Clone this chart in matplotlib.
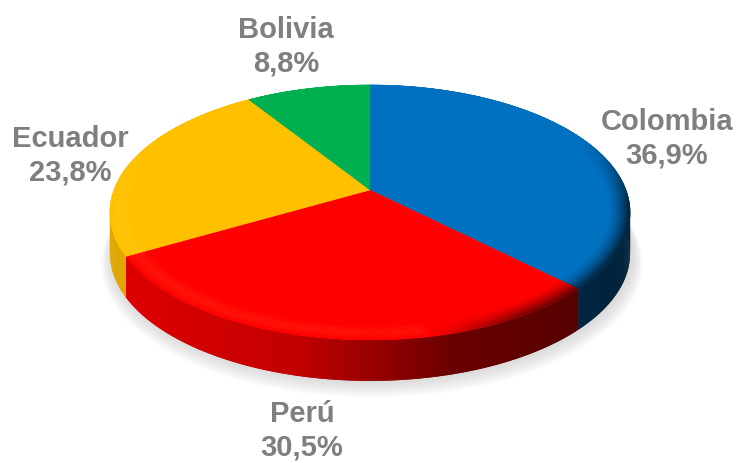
import numpy as np
import matplotlib
matplotlib.use("Agg")
import matplotlib.pyplot as plt
from matplotlib.collections import PolyCollection

countries = ["Colombia", "Perú", "Ecuador", "Bolivia"]
shares = [36.9, 30.5, 23.8, 8.8]
colors = ["#0070C0", "#FF0000", "#FFC000", "#00B050"]
label_x = [667, 302, 70, 286]
label_y = [139, 431, 156, 47]

# pie geometry in pixels, perspective squeezes the back of the disc
CX, CY = 370, 190
A, B, K = 256, 123.5, 0.176
DEPTH = 41


def project(th, r=1.0):
    # th is clockwise from 12 o'clock, small warp pulls the front corners in
    th = th + 0.04 * np.sin(th)
    u = r * np.sin(th)
    v = r * np.cos(th)
    w = 1 + K * v
    return CX + A * u / w, CY - B * v / w


def side_shade(x):
    return np.interp(x, [110, 300, 450, 575, 630], [0.88, 0.76, 0.42, 0.34, 0.30])


def bevel_amount(x, th):
    a = np.interp(x, [110, 420, 520, 630], [0.07, 0.06, -0.55, -0.75])
    return a * np.clip((0.45 - np.cos(th)) / 0.55, 0, 1)


def mix(rgb, a):
    rgb = np.array(rgb)
    if a >= 0:
        return rgb + (1 - rgb) * a * np.array([1, 1, 0.5])
    return rgb * (1 + a)


fig = plt.figure(figsize=(7.36, 4.63), dpi=100)
ax = fig.add_axes([0, 0, 1, 1])
ax.set_xlim(0, 736)
ax.set_ylim(463, 0)
ax.axis("off")

edges = np.cumsum([0] + shares) / sum(shares) * 2 * np.pi

# soft shadow under the pie
circle = np.linspace(0, 2 * np.pi, 200)
for i in range(10, 0, -1):
    sx, sy = project(circle, 1 + i * 0.004)
    ax.fill(sx + 2, sy + DEPTH + i * 0.9, color="#808080", alpha=0.028, lw=0, zorder=1)

# side wall, every strip overlaps the next one so no seams show
for k, c in enumerate(colors):
    base = matplotlib.colors.to_rgb(c)
    th = np.linspace(edges[k], edges[k + 1], int(shares[k] * 8) + 3)
    x, y = project(th)
    polys = []
    cols = []
    for j in range(len(th) - 1):
        e = min(j + 2, len(th) - 1)
        polys.append([(x[j], y[j]), (x[j + 1], y[j + 1]), (x[e], y[e]),
                      (x[e], y[e] + DEPTH), (x[j + 1], y[j + 1] + DEPTH), (x[j], y[j] + DEPTH)])
        cols.append(np.array(base) * side_shade((x[j] + x[j + 1]) / 2))
    ax.add_collection(PolyCollection(polys, facecolors=cols, edgecolors="none", zorder=2))

# top face
for k, c in enumerate(colors):
    th = np.linspace(edges[k], edges[k + 1], 200)
    x, y = project(th)
    ax.fill(np.r_[CX, x], np.r_[CY, y], color=c, lw=0.3, zorder=3)

# rim shading on the top face
rings = np.linspace(0.92, 1.0, 9)
for k, c in enumerate(colors):
    base = matplotlib.colors.to_rgb(c)
    th = np.linspace(edges[k], edges[k + 1], int(shares[k] * 5) + 2)
    polys = []
    cols = []
    for i in range(len(rings) - 1):
        f = (i + 0.5) / (len(rings) - 1)
        for j in range(len(th) - 1):
            x0, y0 = project(th[j], rings[i])
            x1, y1 = project(th[j + 1], rings[i])
            x2, y2 = project(th[j + 1], rings[i + 1])
            x3, y3 = project(th[j], rings[i + 1])
            polys.append([(x0, y0), (x1, y1), (x2, y2), (x3, y3)])
            a = bevel_amount((x0 + x1) / 2, (th[j] + th[j + 1]) / 2)
            a = a * np.sin(np.pi * f) if a > 0 else a * f ** 1.5
            cols.append(mix(base, a))
    ax.add_collection(PolyCollection(polys, facecolors=cols, edgecolors=cols,
                                     linewidths=0.4, zorder=4))

for name, val, lx, ly in zip(countries, shares, label_x, label_y):
    ax.text(lx, ly, name + "\n" + f"{val:.1f}%".replace(".", ","), ha="center", va="center",
            fontsize=21, fontweight="bold", family="Liberation Sans", color="#7F7F7F",
            linespacing=1.25, zorder=5)

fig.savefig("out.png", dpi=100)
